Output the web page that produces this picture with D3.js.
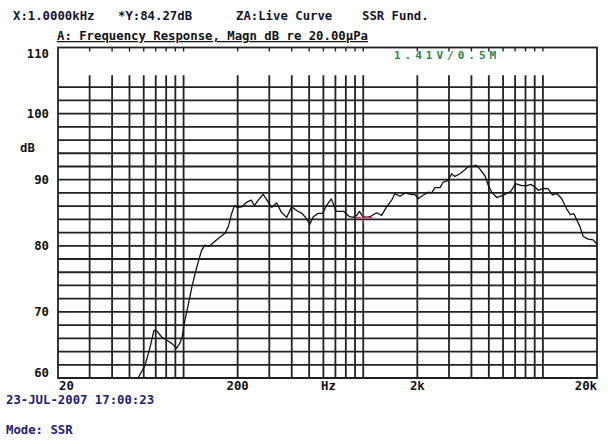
<!DOCTYPE html>
<html><head><meta charset="utf-8">
<script src="https://cdn.jsdelivr.net/npm/d3@7"></script>
<style>
html,body{margin:0;padding:0;background:#fff;}
svg{display:block;}
text{font-family:"DejaVu Sans Mono",monospace;font-weight:bold;}
</style></head>
<body><svg id="c" width="608" height="444"></svg>
<script>
// ---- data ----
const freqs = [54.5,61,65,68.4,71.1,75.5,81.9,86.2,91.5,95.5,98.3,101.8,106.2,110.9,115.7,120.7,126.1,131.5,138.5,143.9,156,170,177.3,184.8,192,198.2,211.3,224.4,238,248.1,260.4,277.6,293,309.3,329.7,349.7,374.8,399.7,427.6,456.1,473.8,505.1,527.1,561.8,593,625.7,663.8,707.6,780.9,838,879.8,919,952.6,990,1035,1090,1187,1266,1349,1439,1501,1601,1706,1819,1939,2024,2157,2300,2404,2506,2673,2789,2972,3104,3238,3453,3682,3840,4095,4239,4461,4757,4962,5182,5527,6068,6636,7032,7611,8147,8542,9026,9416,10038,10662,11296,11920,12706,13544,14224,14878,16064,16760,17868,19052,19900];
const levels = [59.5,61.9,64.6,67.2,67.1,66.2,65.6,65.2,64.5,65.3,66.3,68.8,71.1,73.6,75.7,77.6,79.35,80.1,79.9,80.3,81.1,81.9,82.9,84.8,86.1,85.8,85.9,86.6,86.9,86.1,86.9,87.8,86.8,85.8,86.5,85.1,84.3,85.9,85.3,84.9,84.4,83.3,84.4,84.9,84.9,86.1,87.1,85.2,85.2,84.4,84.3,84.6,85.2,84.5,84.3,84.4,85.0,84.6,85.9,86.9,87.9,87.5,88.0,87.8,87.75,87.15,87.65,88.1,88.0,88.8,88.8,89.65,89.9,90.9,90.5,90.9,91.5,92.0,92.0,92.2,91.6,90.6,89.15,88.15,87.3,87.7,88.25,89.4,89.1,89.1,89.3,88.9,88.4,88.7,88.65,87.7,87.9,87.15,85.6,84.7,84.85,82.9,81.4,81.0,80.9,80.3];
const yTickValues = [60,70,80,90,100,110];
const xTickValues = [20,200,2000,20000];
const xTickText = ["20","200","2k","20k"];
const cursorFreq = 1000, cursorLevel = 84.27;
const headerTexts = ["X:1.0000kHz","*Y:84.27dB","ZA:Live Curve","SSR Fund."];
const titleText = "A: Frequency Response, Magn dB re 20.00\u00b5Pa";
const noteText = "1.41V/0.5M";
const dateText = "23-JUL-2007 17:00:23";
const modeText = "Mode: SSR";

// ---- layout ----
const L = 58, R = 597, T = 47.5, B = 378;
const svg = d3.select("#c");
const x = d3.scaleLog().domain([20,20000]).range([L,R]);
const y = d3.scaleLinear().domain([60,110]).range([B,T]);
const gridCol = "#222", gridW = 1.8;

const grid = svg.append("g");
// horizontal grid (every 2 dB up to 104)
grid.selectAll("line.h").data(d3.range(60,105,2)).join("line")
  .attr("x1",L).attr("x2",R).attr("y1",d=>y(d)).attr("y2",d=>y(d))
  .attr("stroke",gridCol).attr("stroke-width",gridW);
// vertical grid
const vt = x.ticks().filter(d=>d>20 && d<20000);
grid.selectAll("line.v").data(vt).join("line")
  .attr("x1",d=>x(d)).attr("x2",d=>x(d)).attr("y1",y(105.8)).attr("y2",B)
  .attr("stroke",gridCol).attr("stroke-width",gridW);
// top ticks
grid.selectAll("line.t").data(vt).join("line")
  .attr("x1",d=>x(d)).attr("x2",d=>x(d)).attr("y1",T).attr("y2",T+4)
  .attr("stroke",gridCol).attr("stroke-width",1.4);
// frame
svg.append("rect").attr("x",L).attr("y",T).attr("width",R-L).attr("height",B-T)
  .attr("fill","none").attr("stroke",gridCol).attr("stroke-width",1.8);

// curve
const pts = freqs.map((f,i)=>[f,levels[i]]);
svg.append("clipPath").attr("id","clp").append("rect")
  .attr("x",L).attr("y",T).attr("width",R-L).attr("height",B-T);
svg.append("path").datum(pts).attr("clip-path","url(#clp)")
  .attr("d",d3.line().x(d=>x(d[0])).y(d=>y(d[1])))
  .attr("fill","none").attr("stroke","#111").attr("stroke-width",1.3)
  .attr("stroke-linejoin","round");

// cursor marker
const cx = x(cursorFreq), cy = y(cursorLevel);
const mk = svg.append("g").attr("stroke","#d0306a").attr("stroke-width",1.6);
mk.append("line").attr("x1",cx-8).attr("x2",cx-2).attr("y1",cy).attr("y2",cy);
mk.append("line").attr("x1",cx+2).attr("x2",cx+9).attr("y1",cy).attr("y2",cy);
mk.append("line").attr("x1",cx).attr("x2",cx).attr("y1",cy-6).attr("y2",cy+6).attr("stroke-width",1.1);

// y tick labels
svg.selectAll("text.yl").data(yTickValues).join("text")
  .attr("x",49).attr("y",d=>Math.min(Math.max(y(d),54),373)+4.3)
  .attr("text-anchor","end").attr("font-size","12.3px").attr("fill","#111")
  .text(d=>d);
svg.append("text").attr("x",20).attr("y",152).attr("font-size","12.3px").attr("fill","#111").text("dB");

// x tick labels
svg.selectAll("text.xl").data(xTickValues).join("text")
  .attr("x",(d,i)=> i===0 ? x(d)+1 : x(d))
  .attr("y",390)
  .attr("text-anchor",(d,i)=> i===0 ? "start" : (i===xTickValues.length-1 ? "end" : "middle"))
  .attr("font-size","12.3px").attr("fill","#111")
  .text((d,i)=>xTickText[i]);
svg.append("text").attr("x",x(640)).attr("y",390).attr("text-anchor","middle")
  .attr("font-size","12.3px").attr("fill","#111").text("Hz");

// header
const hx = [13,118,236,362];
svg.selectAll("text.hd").data(headerTexts).join("text")
  .attr("x",(d,i)=>hx[i]).attr("y",20).attr("font-size","12.3px").attr("fill","#141430")
  .text(d=>d);
// title (underlined)
svg.append("text").attr("x",57).attr("y",40).attr("font-size","12.3px").attr("fill","#111")
  .attr("text-decoration","underline").text(titleText);
// green note
svg.append("text").attr("x",394).attr("y",59).attr("font-size","11px").attr("fill","#23874a")
  .attr("letter-spacing","4px").text(noteText);
// footer
svg.append("text").attr("x",6).attr("y",404).attr("font-size","12.3px").attr("fill","#20207a").text(dateText);
svg.append("text").attr("x",6).attr("y",434).attr("font-size","12.3px").attr("fill","#20207a").text(modeText);
</script></body></html>
